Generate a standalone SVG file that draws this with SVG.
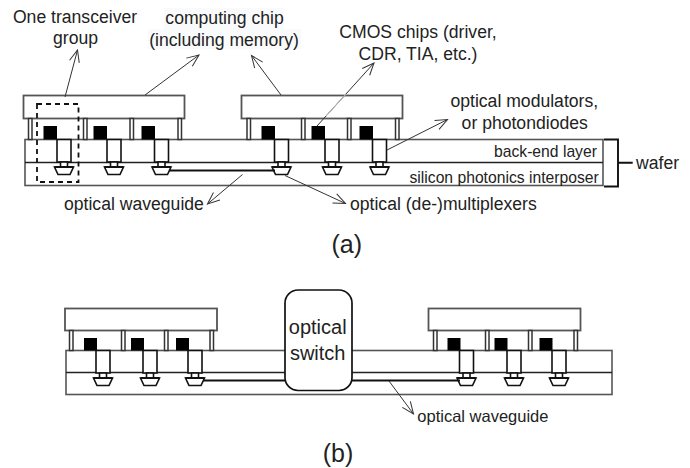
<svg xmlns="http://www.w3.org/2000/svg" xmlns:xlink="http://www.w3.org/1999/xlink" width="690" height="468" viewBox="0 0 690 468">
<style>
text{font-family:"Liberation Sans",Arial,sans-serif;fill:#222;font-size:17.6px}
.m{text-anchor:middle}
.box{fill:#fff;stroke:#555;stroke-width:1.8}
.wafer{fill:#fff;stroke:#555;stroke-width:1.6}
.in{stroke:#222;stroke-width:1.5;fill:none}
.p{fill:#fff;stroke:#333;stroke-width:1.5}
.b{fill:#000}
.mod{fill:#fff;stroke:#111;stroke-width:1.6}
.wg{stroke:#111;stroke-width:2;fill:none}
.ar{stroke:#333;stroke-width:1;fill:none;marker-end:url(#h)}
</style>
<defs>
<marker id="h" markerUnits="userSpaceOnUse" markerWidth="18" markerHeight="18" refX="13" refY="9" orient="auto"><path d="M1 4 L13 9 L1 14" fill="none" stroke="#333" stroke-width="1"/></marker>
<g id="tr"><rect class="mod" x="0" y="0" width="14" height="22.5"/><rect class="mod" x="3.5" y="22.5" width="7" height="5"/><path class="mod" d="M-2.5 27.5H16.5L13 35H1Z"/><path d="M-2.5 27.5H16.5" stroke="#111" stroke-width="2"/></g>
</defs>
<g id="wafer-a"><rect class="wafer" x="25" y="139.5" width="578" height="46"/><path class="in" d="M25 162.5H603"/></g>
<g id="wafer-b"><rect class="wafer" x="66" y="350.5" width="546" height="44"/><path class="in" d="M66 372.5H612"/></g>
<g id="chip-a1"><rect class="box" x="23.5" y="95.5" width="161" height="23"/>
<rect class="p" x="28.5" y="118.5" width="3.5" height="21"/><rect class="p" x="83.5" y="118.5" width="3.5" height="21"/><rect class="p" x="130" y="118.5" width="3.5" height="21"/><rect class="p" x="178" y="118.5" width="3.5" height="21"/></g>
<g id="chip-a2"><rect class="box" x="241.5" y="95.5" width="161" height="23"/>
<rect class="p" x="247" y="118.5" width="3.5" height="21"/><rect class="p" x="301.5" y="118.5" width="3.5" height="21"/><rect class="p" x="347.5" y="118.5" width="3.5" height="21"/><rect class="p" x="395.5" y="118.5" width="3.5" height="21"/></g>
<g id="transceivers-a">
<rect class="b" x="43.5" y="126" width="13.5" height="13.5"/><rect class="b" x="93.5" y="126" width="13.5" height="13.5"/><rect class="b" x="141.5" y="126" width="13.5" height="13.5"/>
<rect class="b" x="261.5" y="126" width="13.5" height="13.5"/><rect class="b" x="311.5" y="126" width="13.5" height="13.5"/><rect class="b" x="359.5" y="126" width="13.5" height="13.5"/>
<use xlink:href="#tr" href="#tr" x="57" y="139.5"/><use xlink:href="#tr" href="#tr" x="107" y="139.5"/><use xlink:href="#tr" href="#tr" x="154.5" y="139.5"/>
<use xlink:href="#tr" href="#tr" x="274.5" y="139.5"/><use xlink:href="#tr" href="#tr" x="325" y="139.5"/><use xlink:href="#tr" href="#tr" x="372.5" y="139.5"/>
</g>
<g id="chip-b1"><rect class="box" x="65" y="308.5" width="152" height="22"/>
<rect class="p" x="69.5" y="330.5" width="3.5" height="20"/><rect class="p" x="121.5" y="330.5" width="3.5" height="20"/><rect class="p" x="164.5" y="330.5" width="3.5" height="20"/><rect class="p" x="210" y="330.5" width="3.5" height="20"/></g>
<g id="chip-b2"><rect class="box" x="428.5" y="308.5" width="152" height="22"/>
<rect class="p" x="433.5" y="330.5" width="3.5" height="20"/><rect class="p" x="485.5" y="330.5" width="3.5" height="20"/><rect class="p" x="528.5" y="330.5" width="3.5" height="20"/><rect class="p" x="574" y="330.5" width="3.5" height="20"/></g>
<g id="transceivers-b">
<rect class="b" x="84" y="338" width="13" height="12.5"/><rect class="b" x="131" y="338" width="13" height="12.5"/><rect class="b" x="176" y="338" width="13" height="12.5"/>
<rect class="b" x="447.5" y="338" width="13" height="12.5"/><rect class="b" x="494.5" y="338" width="13" height="12.5"/><rect class="b" x="539.5" y="338" width="13" height="12.5"/>
<use xlink:href="#tr" href="#tr" x="96" y="350.5"/><use xlink:href="#tr" href="#tr" x="143" y="350.5"/><use xlink:href="#tr" href="#tr" x="188" y="350.5"/>
<use xlink:href="#tr" href="#tr" x="459.5" y="350.5"/><use xlink:href="#tr" href="#tr" x="507" y="350.5"/><use xlink:href="#tr" href="#tr" x="552" y="350.5"/>
</g>
<g id="connectors">
<path class="wg" d="M169 170.5H275"/>
<path class="wg" d="M203 380.5H290M350 380.5H460"/>
<rect x="37" y="104" width="41.5" height="78" fill="none" stroke="#111" stroke-width="1.8" stroke-dasharray="5 4"/>
<path class="ar" d="M65 97L77.5 50"/>
<path class="ar" d="M145 95L199 55"/>
<path class="ar" d="M281 95L251.5 55.5"/>
<path class="ar" d="M317 126L374 63"/><path d="M326 116L346 94" stroke="#bbb" fill="none" stroke-width="1.1"/>
<path class="ar" d="M387 150L447.5 119.5"/>
<path class="ar" d="M242.5 174.5L207.5 204"/>
<path class="ar" d="M285 175.5L345.5 203.5"/>
<path class="ar" d="M389 381L413.5 414"/>
<path d="M604 139.5H618V186.5H604M618 162.7H632.7" fill="none" stroke="#111" stroke-width="1.9"/>
</g>
<g id="switch"><rect x="285" y="290" width="67" height="100.5" rx="13" fill="#fff" stroke="#111" stroke-width="1.7"/>
<text class="m" x="317.7" y="334" style="font-size:20px">optical</text><text class="m" x="317.7" y="360" style="font-size:20px">switch</text></g>
<g id="labels">
<text class="m" x="75" y="22.5">One transceiver</text><text class="m" x="75.5" y="43.5">group</text>
<rect x="164" y="8" width="120" height="21" fill="#f9fafb"/><rect x="148" y="29" width="153" height="20" fill="#f9fafb"/>
<text class="m" x="224.5" y="24">computing chip</text><text class="m" x="224" y="46">(including memory)</text>
<text class="m" x="418" y="38">CMOS chips (driver,</text><text class="m" x="418" y="60">CDR, TIA, etc.)</text>
<text class="m" x="524.3" y="107.3">optical modulators,</text><text class="m" x="524.7" y="128.5">or photondiodes</text>
<text x="494" y="157.3" style="font-size:15.7px">back-end layer</text>
<text x="409.5" y="183.3" style="font-size:15.7px">silicon photonics interposer</text>
<text x="636" y="169.3">wafer</text>
<text x="64" y="210">optical waveguide</text>
<text x="350" y="210">optical (de-)multiplexers</text>
<text class="m" x="346.7" y="253" style="font-size:25px">(a)</text>
<text x="417.3" y="422" style="font-size:16.5px">optical waveguide</text>
<text class="m" x="338" y="461.5" style="font-size:25px">(b)</text>
</g>
</svg>
